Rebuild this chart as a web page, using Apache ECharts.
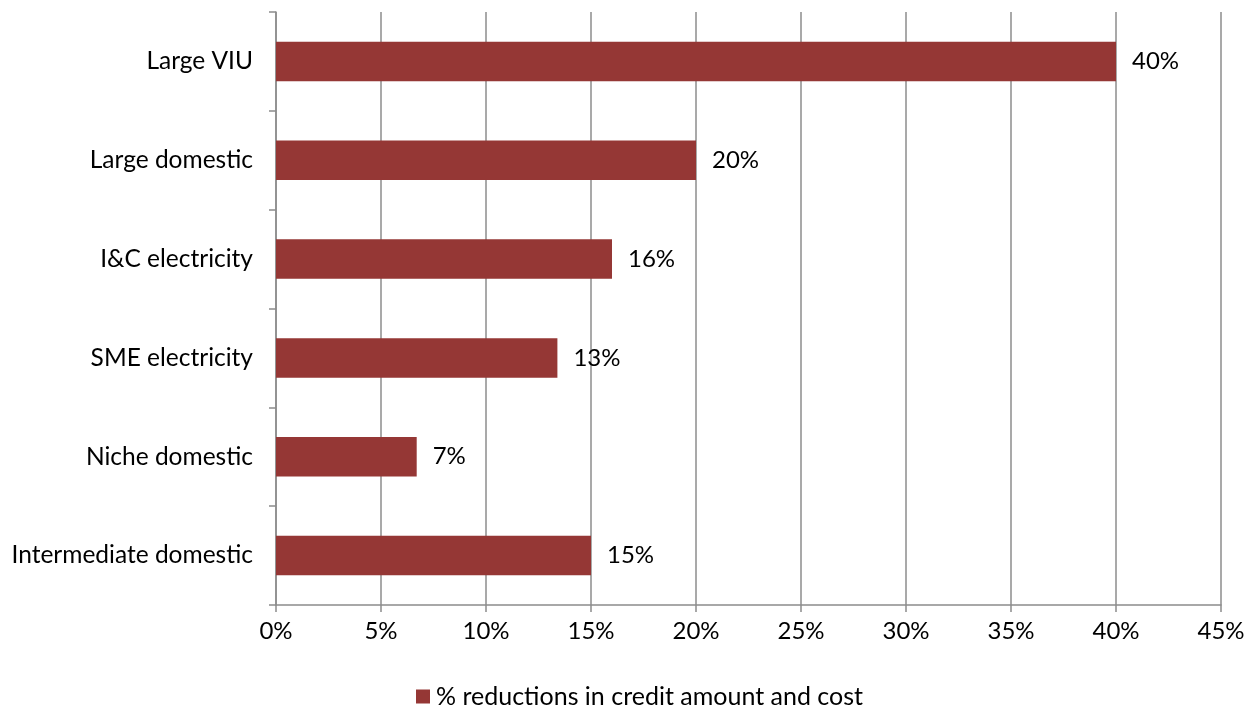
<!DOCTYPE html>
<html>
<head>
<meta charset="utf-8">
<script src="https://cdn.jsdelivr.net/npm/echarts@6/dist/echarts.min.js"></script>
<style>
  html, body { margin: 0; padding: 0; background: #fff; }
  #chart { width: 1257px; height: 709px; }
</style>
</head>
<body>
<div id="chart"></div>
<script>
// Supplier categories, top to bottom
const categories = [
  'Large VIU',
  'Large domestic',
  'I&C electricity',
  'SME electricity',
  'Niche domestic',
  'Intermediate domestic'
];
// % reduction in credit amount and cost per category
const reductions = [40.0, 20.0, 16.0, 13.4, 6.7, 15.0];
const seriesName = '% reductions in credit amount and cost';
const xTicks = { min: 0, max: 45, interval: 5 };

const FONT = 'Lato, "Open Sans", sans-serif';
const GRID_COLOR = '#8c8c8c';

const chart = echarts.init(document.getElementById('chart'), null, { renderer: 'canvas' });
chart.setOption({
  animation: false,
  backgroundColor: '#ffffff',
  textStyle: { fontFamily: FONT },
  grid: { left: 276, right: 36, top: 12, bottom: 104, containLabel: false },
  legend: {
    top: 679,
    left: 411,
    itemWidth: 14,
    itemHeight: 14,
    itemGap: 10,
    icon: 'rect',
    textStyle: { fontFamily: FONT, fontSize: 25, color: '#000', padding: [0, 0, 0, 1] },
    data: [seriesName]
  },
  xAxis: {
    type: 'value',
    min: xTicks.min,
    max: xTicks.max,
    interval: xTicks.interval,
    axisLine: { show: true, lineStyle: { color: GRID_COLOR, width: 1.5 } },
    axisTick: { show: true, length: 7, lineStyle: { color: GRID_COLOR, width: 1.5 } },
    splitLine: { show: true, lineStyle: { color: GRID_COLOR, width: 1.5 } },
    axisLabel: {
      formatter: v => v + '%',
      fontFamily: FONT, fontSize: 24, color: '#000', margin: 14
    }
  },
  yAxis: {
    type: 'category',
    inverse: true,
    data: categories,
    axisLine: { show: true, lineStyle: { color: GRID_COLOR, width: 1.5 } },
    axisTick: { show: true, length: 7, lineStyle: { color: GRID_COLOR, width: 1.5 } },
    axisLabel: { fontFamily: FONT, fontSize: 24.5, color: '#000', margin: 23 }
  },
  series: [{
    name: seriesName,
    type: 'bar',
    data: reductions,
    barWidth: '40%',
    itemStyle: { color: '#953735' },
    label: {
      show: true,
      position: 'right',
      distance: 16,
      formatter: p => Math.round(p.value) + '%',
      fontFamily: FONT, fontSize: 24, color: '#000'
    }
  }]
});
</script>
</body>
</html>
